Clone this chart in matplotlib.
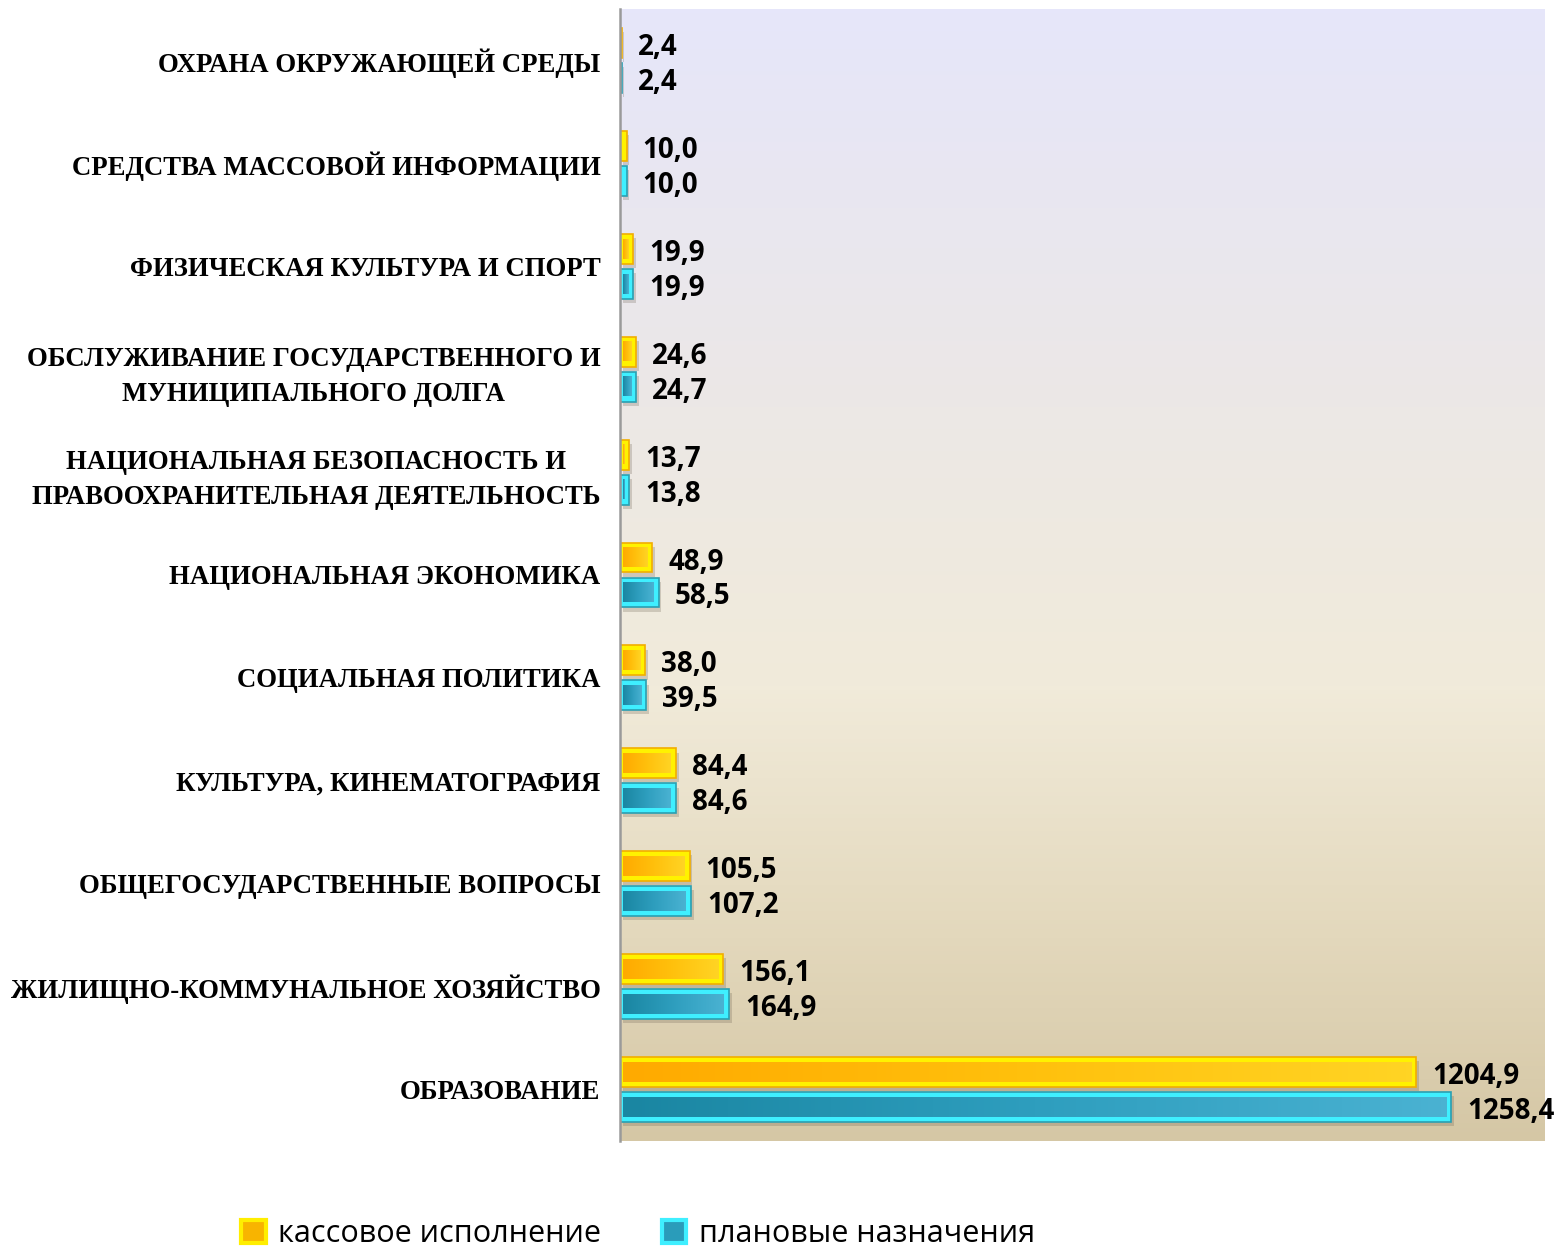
import numpy as np
import matplotlib
matplotlib.use("Agg")
import matplotlib.pyplot as plt
from matplotlib.colors import LinearSegmentedColormap
from matplotlib.patches import Patch
import matplotlib.patheffects as pe
from matplotlib.transforms import offset_copy

categories = [
    "ОБРАЗОВАНИЕ",
    "ЖИЛИЩНО-КОММУНАЛЬНОЕ ХОЗЯЙСТВО",
    "ОБЩЕГОСУДАРСТВЕННЫЕ ВОПРОСЫ",
    "КУЛЬТУРА, КИНЕМАТОГРАФИЯ",
    "СОЦИАЛЬНАЯ ПОЛИТИКА",
    "НАЦИОНАЛЬНАЯ ЭКОНОМИКА",
    "НАЦИОНАЛЬНАЯ БЕЗОПАСНОСТЬ И\nПРАВООХРАНИТЕЛЬНАЯ ДЕЯТЕЛЬНОСТЬ",
    "ОБСЛУЖИВАНИЕ ГОСУДАРСТВЕННОГО И\nМУНИЦИПАЛЬНОГО ДОЛГА",
    "ФИЗИЧЕСКАЯ КУЛЬТУРА И СПОРТ",
    "СРЕДСТВА МАССОВОЙ ИНФОРМАЦИИ",
    "ОХРАНА ОКРУЖАЮЩЕЙ СРЕДЫ",
]
kassovoe = [1204.9, 156.1, 105.5, 84.4, 38.0, 48.9, 13.7, 24.6, 19.9, 10.0, 2.4]
planovye = [1258.4, 164.9, 107.2, 84.6, 39.5, 58.5, 13.8, 24.7, 19.9, 10.0, 2.4]
series_names = ["кассовое исполнение", "плановые назначения"]

fig = plt.figure(figsize=(15.6, 12.49), dpi=100)
ax = fig.add_axes([620/1560, 1-1141/1249, (1545-620)/1560, (1141-9)/1249])

XMAX = 1400
n = len(categories)
y = np.arange(n)

# background gradient
bg = LinearSegmentedColormap.from_list("bg", [
    (0.0, "#D5C7A5"), (0.18, "#E3D8BC"), (0.40, "#F1EBDA"),
    (0.65, "#ECE8E6"), (1.0, "#E6E6FA")])
grad = np.linspace(0, 1, 256).reshape(-1, 1)
ax.imshow(grad, extent=[0, 1, 0, 1], transform=ax.transAxes, aspect="auto",
          cmap=bg, origin="lower", zorder=0)

h = 0.29
off = 0.17
inner_y = 0.05
px_per_unit = (1545-620) / XMAX
inner_x = 5 / px_per_unit
label_tr = offset_copy(ax.transData, fig=fig, x=0, y=-4.5, units="dots")

def draw_series(vals, dy, bevel, edge, gcols):
    bars = ax.barh(y + dy, vals, height=h, color=bevel, edgecolor=edge,
                   linewidth=1.2, zorder=3)
    for b in bars:
        b.set_path_effects([pe.SimplePatchShadow(offset=(2, -3), alpha=0.25,
                                                 shadow_rgbFace="#6b6050"),
                            pe.Normal()])
    cm = LinearSegmentedColormap.from_list("g", gcols)
    hg = np.linspace(0, 1, 128).reshape(1, -1)
    for v, yy in zip(vals, y + dy):
        x0, x1 = inner_x * 0.6, v - inner_x
        if x1 - x0 > 0.5:
            ax.imshow(hg, extent=[x0, x1, yy - h/2 + inner_y, yy + h/2 - inner_y],
                      aspect="auto", cmap=cm, zorder=4, interpolation="bilinear")
        ax.text(v + 16/px_per_unit, yy, f"{v:.1f}".replace(".", ","),
                va="center", ha="left", fontsize=20, fontweight="bold",
                family=["Open Sans", "DejaVu Sans"], color="black", zorder=5,
                transform=label_tr)

draw_series(kassovoe, off, "#FFF200", "#F2AE00", ["#FFAA00", "#FFC00C", "#FFD424"])
draw_series(planovye, -off, "#3FEFFF", "#2A9FB2", ["#1A86A2", "#2E9EBE", "#4AB2D2"])

ax.set_xlim(0, XMAX)
ax.set_ylim(-0.5, n - 0.5)
ax.set_yticks(y)
ax.set_yticklabels(categories, family=["Liberation Serif", "DejaVu Serif"],
                   fontweight="bold", fontsize=19.3, multialignment="center",
                   linespacing=1.5)
ax.tick_params(axis="y", length=0, pad=14)
ax.set_xticks([])
for s in ["top", "right", "bottom"]:
    ax.spines[s].set_visible(False)
ax.spines["left"].set_color("#9A9A9A")
ax.spines["left"].set_linewidth(1.8)
ax.spines["left"].set_zorder(6)

handles = [Patch(facecolor="#F8B400", edgecolor="#FFEE00", linewidth=3),
           Patch(facecolor="#2A9CBA", edgecolor="#3FEFFF", linewidth=3)]
fig.legend(handles, series_names, loc="center", bbox_to_anchor=(638/1560, 1-1234/1249),
           ncol=2, frameon=False, handlelength=0.8, handleheight=0.8,
           handletextpad=0.4, columnspacing=2.0,
           prop=dict(family=["Open Sans", "DejaVu Sans"], size=22))

fig.savefig("out.png", dpi=100)
